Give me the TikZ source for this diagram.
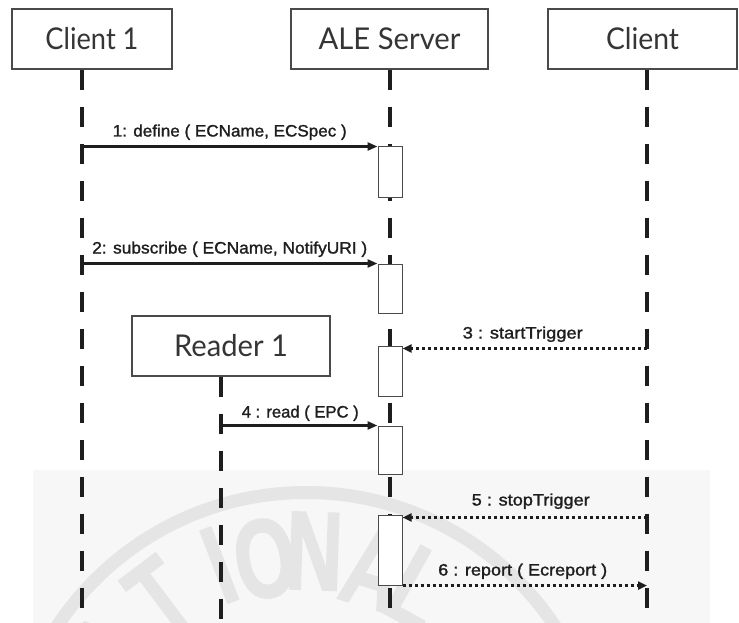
\documentclass[tikz,border=0pt]{standalone}
\usepackage{fontspec}
\usepackage{graphicx}
\setmainfont{Lato}
\newfontfamily\lblfont[FakeBold=1.4]{Liberation Sans}
\newfontfamily\wmfam[FakeStretch=0.7,FakeBold=1.5]{Liberation Sans Bold}
\usetikzlibrary{arrows.meta}

\definecolor{ink}{HTML}{1E1E1E}
\definecolor{boxline}{HTML}{4A4A4A}
\definecolor{wmbg}{HTML}{F7F7F7}
\definecolor{wmink}{HTML}{E5E5E5}

% squeeze or stretch a text horizontally to a given width
\newcommand{\fitlbl}[2]{\resizebox{#1}{\height}{#2}}

\begin{document}
\begin{tikzpicture}[x=1pt,y=-1pt,
  hdr/.style={draw=boxline, line width=1.1pt, fill=white, minimum height=60,
              inner sep=0pt, font=\fontsize{30}{30}\selectfont, text=ink!90},
  act/.style={draw=boxline, line width=1pt, fill=white, minimum width=24, inner sep=0pt},
  life/.style={draw=ink, line width=4.5pt, dash pattern=on 20pt off 17pt},
  msg/.style={draw=ink, line width=2.5pt, -{Triangle[length=10pt,width=8pt]}},
  ret/.style={draw=ink, line width=2.8pt, dash pattern=on 3pt off 3pt,
              -{Triangle[length=9pt,width=8pt]}},
  lbl/.style={font=\lblfont\fontsize{16.5}{16.5}\selectfont, text=ink, inner sep=0pt,
              anchor=base, yshift=10pt},
  wmchar/.style={text=wmink, inner sep=0pt,
                 font=\wmfam\fontsize{112}{112}\selectfont}
]
\useasboundingbox (0,0) rectangle (739,623);

% faint seal in the background
\begin{scope}
  \clip (0,0) rectangle (739,623);
  \fill[wmbg] (33,470) rectangle (710,623);
  \draw[wmink, line width=13pt] (306,791) circle[radius=298.5];
  \begin{scope}[shift={(306,791)}]
    \node[wmchar, rotate=54]  (w1) at (-144:240) {A};
    \node[wmchar, rotate=37]  (w2) at (-127:242) {T};
    \node[wmchar, rotate=21]  (w3) at (-111:242) {I};
    \node[wmchar, rotate=10]  (w4) at (-100:236) {O};
    \node[wmchar, rotate=-2]  (w5) at (-88:240)  {N};
    \node[wmchar, rotate=-17] (w6) at (-73:232)  {A};
    \node[wmchar, rotate=-29] (w7) at (-61:232)  {L};
  \end{scope}
\end{scope}

% participants
\node[hdr, minimum width=160] (c1)  at (92,39)    {\fitlbl{93pt}{Client 1}};
\node[hdr, minimum width=197] (ale) at (389.5,39) {\fitlbl{142pt}{ALE Server}};
\node[hdr, minimum width=189] (cl)  at (642.5,39) {\fitlbl{73pt}{Client}};
\node[hdr, minimum width=198] (rd)  at (231,346)  {\fitlbl{114pt}{Reader 1}};

% lifeline ends
\coordinate (c1b)  at (82,623);
\coordinate (aleb) at (390,623);
\coordinate (clb)  at (647,623);
\coordinate (rdb)  at (221,623);

\draw[life] (c1.south -| c1b) -- (c1b);
\draw[life] (ale.south -| aleb) -- (aleb);
\draw[life] (cl.south -| clb) -- (clb);
\draw[life] (rd.south -| rdb) -- (rdb);

% activations on the server
\node[act, minimum height=50] (a1) at (390,172)   {};
\node[act, minimum height=49] (a2) at (390,288.5) {};
\node[act, minimum height=50] (a3) at (390,371)   {};
\node[act, minimum height=48] (a4) at (390,450)   {};
\node[act, minimum height=70] (a5) at (390,550)   {};

% messages
\draw[msg] (a1.north west -| c1b) -- node[lbl, midway] (m1)
  {\fitlbl{234pt}{1: define ( ECName, ECSpec )}} (a1.north west);
\draw[msg] (a2.north west -| c1b) -- node[lbl, midway] (m2)
  {\fitlbl{275pt}{2: subscribe ( ECName, NotifyURI )}} (a2.north west);
\draw[ret] ([yshift=-3pt]a3.north east -| clb) -- node[lbl, midway, xshift=-2pt] (m3)
  {\fitlbl{120pt}{3 : startTrigger}} ([yshift=-3pt]a3.north east);
\draw[msg] (a4.north west -| rdb) -- node[lbl, midway, xshift=1pt, yshift=-2pt] (m4)
  {\fitlbl{117pt}{4 : read ( EPC )}} (a4.north west);
\draw[ret] ([yshift=-3pt]a5.north east -| clb) -- node[lbl, midway, xshift=6pt, yshift=2pt] (m5)
  {\fitlbl{118pt}{5 : stopTrigger}} ([yshift=-3pt]a5.north east);
\draw[ret] (a5.south east) -- node[lbl, midway, xshift=-2pt] (m6)
  {\fitlbl{169pt}{6 : report ( Ecreport )}} (a5.south east -| clb);
\end{tikzpicture}
\end{document}
